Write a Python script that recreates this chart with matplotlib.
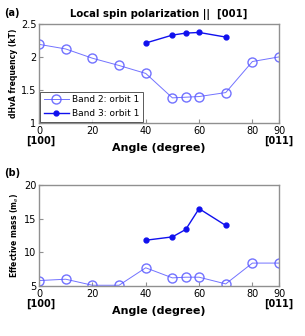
import matplotlib
matplotlib.use("Agg")
import matplotlib.pyplot as plt

angles2 = [0, 10, 20, 30, 40, 50, 55, 60, 70, 80, 90]
freq2 = [2.19, 2.12, 1.98, 1.87, 1.75, 1.38, 1.39, 1.40, 1.46, 1.93, 2.00]
mass2 = [5.8, 6.0, 5.1, 5.1, 7.7, 6.2, 6.3, 6.3, 5.3, 8.4, 8.4]
angles3 = [40, 50, 55, 60, 70]
freq3 = [2.21, 2.33, 2.36, 2.37, 2.30]
mass3 = [11.8, 12.3, 13.4, 16.5, 14.0]
xticks = [0, 20, 40, 60, 80, 90]
label2 = "Band 2: orbit 1"
label3 = "Band 3: orbit 1"

c2 = "#5a5aff"
c3 = "#1010ee"
spine = "#909090"

fig = plt.figure(figsize=(3.05, 3.36), dpi=100)
ax1 = fig.add_axes([0.128, 0.634, 0.787, 0.295])
ax2 = fig.add_axes([0.128, 0.149, 0.787, 0.300])

def style(ax):
    for s in ax.spines.values():
        s.set_color(spine)
        s.set_linewidth(1.0)
    ax.tick_params(direction="in", length=3, color=spine, labelsize=7, pad=2)
    ax.set_xlim(0, 90)
    ax.set_xticks(xticks)
    ax.set_xlabel("Angle (degree)", fontsize=8, fontweight="bold", labelpad=5)
    ax.text(-0.055, -0.125, "[100]", transform=ax.transAxes, fontsize=7,
            fontweight="bold", ha="left", va="top")
    ax.text(1.058, -0.125, "[011]", transform=ax.transAxes, fontsize=7,
            fontweight="bold", ha="right", va="top")

ax1.plot(angles2, freq2, "-o", color=c2, mfc="none", mec=c2, ms=6.5,
         lw=0.7, alpha=0.85, label=label2)
ax1.plot(angles3, freq3, "-o", color=c3, mfc=c3, mec=c3, ms=3.5,
         lw=1.0, label=label3)
ax1.set_ylim(1, 2.5)
ax1.set_yticks([1, 1.5, 2, 2.5])
ax1.set_yticklabels(["1", "1.5", "2", "2.5"])
ax1.set_ylabel("dHvA frequency (kT)", fontsize=5.5, fontweight="bold", labelpad=2)
style(ax1)
leg = ax1.legend(loc="lower left", fontsize=6.5, frameon=True, fancybox=False,
                 borderaxespad=0.15, handlelength=2.8, borderpad=0.35,
                 labelspacing=0.55, handletextpad=0.4)
leg.get_frame().set_edgecolor("#303030")
leg.get_frame().set_linewidth(0.7)
ax1.set_title("Local spin polarization ||  [001]", fontsize=7.3, fontweight="bold", pad=5)

ax2.plot(angles2, mass2, "-o", color=c2, mfc="none", mec=c2, ms=6.5,
         lw=0.7, alpha=0.85)
ax2.plot(angles3, mass3, "-o", color=c3, mfc=c3, mec=c3, ms=3.5, lw=1.0)
ax2.set_ylim(5, 20)
ax2.set_yticks([5, 10, 15, 20])
ax2.set_ylabel("Effective mass (m$_e$)", fontsize=5.5, fontweight="bold", labelpad=2)
style(ax2)

fig.text(0.012, 0.975, "(a)", fontsize=7, fontweight="bold", va="top")
fig.text(0.012, 0.500, "(b)", fontsize=7, fontweight="bold", va="top")

fig.savefig("out.png", dpi=100)
